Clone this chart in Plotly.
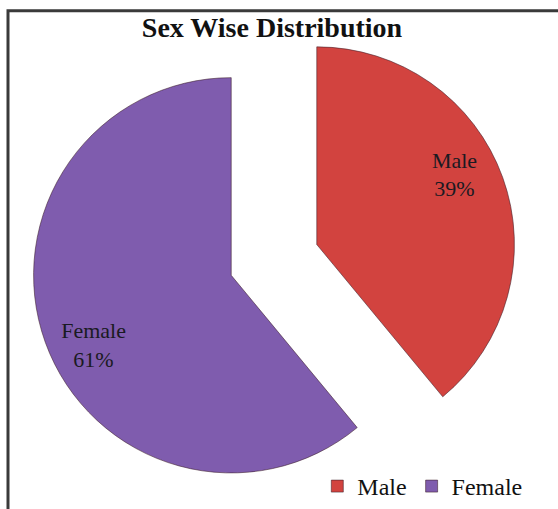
import plotly.graph_objects as go

categories = ["Male", "Female"]
values = [39, 61]
colors = ["#D2433F", "#7F5CAE"]
pulls = [0.23, 0.23]

W, H = 558, 509
dom = dict(x=[28 / W, 520 / W], y=[0, (H - 17) / H])

fig = go.Figure()
fig.add_trace(go.Pie(
    labels=categories,
    values=values,
    sort=False,
    direction="clockwise",
    rotation=0,
    pull=pulls,
    marker=dict(colors=colors, line=dict(color="rgba(60,30,40,0.55)", width=1)),
    textinfo="none",
    domain=dom,
    hoverinfo="label+percent",
))
# transparent ring trace carrying the slice labels further out
fig.add_trace(go.Pie(
    labels=categories,
    values=values,
    sort=False,
    direction="clockwise",
    rotation=-5.5,
    pull=pulls,
    hole=0.56,
    marker=dict(colors=["rgba(0,0,0,0)"] * 2, line=dict(width=0)),
    texttemplate="%{label}<br>%{percent:.0%}",
    textposition="inside",
    insidetextorientation="horizontal",
    textfont=dict(family="Liberation Serif", size=22, color="#1a1a22"),
    domain=dom,
    showlegend=False,
    hoverinfo="skip",
))

fig.update_layout(
    width=W, height=H,
    margin=dict(l=0, r=0, t=0, b=0),
    paper_bgcolor="white",
    plot_bgcolor="white",
    title=dict(
        text="<b>Sex Wise Distribution</b>",
        x=272 / W, xanchor="center",
        y=1 - 27 / H, yanchor="middle", yref="container",
        font=dict(family="Liberation Serif", size=28, color="#111111"),
    ),
    legend=dict(
        orientation="h",
        x=0.945, xanchor="right",
        y=-0.012, yanchor="bottom",
        font=dict(family="Liberation Serif", size=24, color="#111111"),
        bgcolor="rgba(0,0,0,0)",
        itemwidth=30,
    ),
    shapes=[
        dict(type="path", xref="paper", yref="paper",
             path=f"M {8/W},{-0.02} L {8/W},{1-11/H} L {1.02},{1-11/H}",
             line=dict(color="#3a3a3a", width=3)),
    ],
    showlegend=True,
)

fig.write_html("out.html")
